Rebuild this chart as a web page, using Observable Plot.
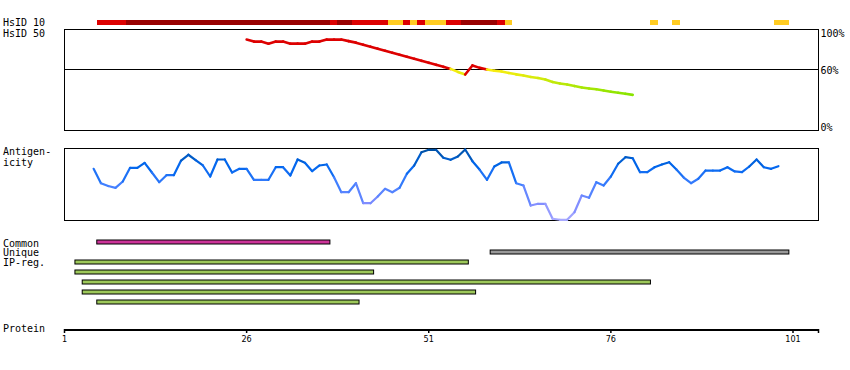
<!DOCTYPE html>
<html><head><meta charset="utf-8">
<script src="https://cdn.jsdelivr.net/npm/d3@7"></script>
<script src="https://cdn.jsdelivr.net/npm/@observablehq/plot@0.6"></script>
<style>
body{margin:0;background:#fff;}
#chart{position:relative;width:850px;height:370px;overflow:hidden;background:#fff;}
#chart > svg{position:absolute;left:0;}
</style></head><body><div id="chart"></div>
<script>
// ---------- data ----------
const proteinLength = 104;
const tickResidues = [1, 26, 51, 76, 101];

// HsID 10 bar segments (residue ranges) and identity level
const hsid10Start = [6, 10, 38, 39, 41, 46, 48, 49, 50, 51, 54, 56, 61, 62, 82, 85, 99];
const hsid10End   = [9, 37, 38, 40, 45, 47, 48, 49, 50, 53, 55, 60, 61, 62, 82, 85, 100];
const hsid10Level = ["mid","high","mid","high","mid","low","mid","low","mid","low","mid","high","mid","low","low","low","low"];

// HsID 50 (% identity) per residue, starting at residue 26
const hsid50First = 26;
const hsid50Values = [90, 88, 88, 86, 88, 88, 86, 86, 86, 88, 88, 90, 90, 90, 88.5, 87, 85, 83, 81, 79,
  77, 75, 73, 71, 69, 67, 65, 63, 61, 58, 55.4, 64.4, 62, 60.4, 59.1, 58.4, 56.9, 55.6, 54.5, 53,
  52, 50.5, 48, 46.5, 45.5, 44, 42.6, 41.6, 40.8, 39.6, 38.4, 37.4, 36.3, 35.3];

// Antigenicity per residue, starting at residue 5
const antigenFirst = 5;
const antigenValues = [71.8, 51.8, 47.9, 45.4, 54.2, 73.2, 73.2, 80.1, 66.7, 53.2, 62.9, 62.9, 83.3, 91.3, 84.0,
  76.4, 61.1, 84.7, 84.7, 66.7, 71.8, 71.8, 56.5, 56.5, 56.5, 74.0, 74.0, 62.5, 84.7, 80.1,
  68.5, 76.4, 77.8, 60.1, 39.3, 39.3, 51.8, 24.0, 24.0, 33.3, 44.0, 39.3, 45.4, 64.9, 76.4,
  94.9, 98.2, 98.2, 87.1, 84.3, 88.9, 98.6, 82.4, 70.4, 56.5, 75.0, 80.6, 80.6, 51.8, 48.6,
  20.8, 23.2, 23.2, 2.4, 1.0, 1.0, 11.5, 34.7, 31.5, 53.2, 48.6, 61.1, 78.8, 87.9, 86.5,
  67.1, 67.1, 74.0, 77.8, 81.0, 70.8, 59.7, 51.8, 57.9, 69.4, 69.4, 69.4, 74.0, 68.1, 67.1,
  75.0, 84.7, 74.0, 71.8, 75.4];

// Region bars
const regionStart = [6, 60, 3, 3, 4, 4, 6];
const regionEnd   = [37, 100, 56, 43, 81, 57, 41];
const regionKind  = ["Common", "Unique", "IP-reg.", "IP-reg.", "IP-reg.", "IP-reg.", "IP-reg."];

const percentTicks = [100, 60, 0];
const sideLabels = ["HsID 10", "HsID 50", "Antigen-", "icity", "Common", "Unique", "IP-reg.", "Protein"];

// ---------- layout ----------
const W = 850;
const mono = "'DejaVu Sans Mono', monospace";
const xScale = {domain: [1, proteinLength + 0.5]};
const base = {width: W, marginLeft: 64, marginRight: 32, x: xScale, style: {fontFamily: mono, fontSize: "10px", background: "transparent"}};
const root = document.getElementById("chart");
function place(svg, top) { svg.style.top = top + "px"; root.appendChild(svg); }

function segments(first, values) {
  const out = [];
  for (let i = 1; i < values.length; i++) {
    out.push({x1: first + i - 1, y1: values[i - 1], x2: first + i, y2: values[i], v: values[i], m: (values[i - 1] + values[i]) / 2});
  }
  return out;
}

// 1. HsID 10 bar
const hsid10 = hsid10Start.map((s, i) => ({s: s - 0.5, e: hsid10End[i] + 0.5, level: hsid10Level[i]}));
place(Plot.plot({
  ...base, height: 26, marginTop: 20, marginBottom: 1,
  x: {...xScale, axis: null},
  color: {type: "ordinal", domain: ["high", "mid", "low"], range: ["#990000", "#dd0000", "#ffcc22"]},
  marks: [Plot.rect(hsid10, {x1: "s", x2: "e", fill: "level", shapeRendering: "crispEdges"})]
}), 0);

// 2. HsID 50 panel
place(Plot.plot({
  ...base, height: 109, marginTop: 3, marginBottom: 5,
  x: {...xScale, axis: null},
  y: {domain: [0, 100], axis: null},
  color: {type: "linear", domain: [35, 59.99, 60, 100], range: ["#88e400", "#ffee11", "#dd0000", "#dd0000"]},
  marks: [
    Plot.frame({stroke: "black", shapeRendering: "crispEdges"}),
    Plot.ruleY([60], {stroke: "black", shapeRendering: "crispEdges"}),
    Plot.link(segments(hsid50First, hsid50Values), {x1: "x1", y1: "y1", x2: "x2", y2: "y2", stroke: "v", strokeWidth: 2.6, strokeLinecap: "round"}),
    Plot.text(percentTicks.filter(d => d === 100), {y: d => d, text: d => d + "%", frameAnchor: "right", textAnchor: "start", dx: 2, lineAnchor: "top", fill: "black"}),
    Plot.text(percentTicks.filter(d => d === 60), {y: d => d, text: d => d + "%", frameAnchor: "right", textAnchor: "start", dx: 2, dy: 1, fill: "black"}),
    Plot.text(percentTicks.filter(d => d === 0), {y: d => d, text: d => d + "%", frameAnchor: "right", textAnchor: "start", dx: 2, lineAnchor: "bottom", fill: "black"})
  ]
}), 26);

// 3. Antigenicity
place(Plot.plot({
  ...base, height: 85, marginTop: 8, marginBottom: 5,
  x: {...xScale, axis: null},
  y: {domain: [0, 100], axis: null},
  color: {type: "linear", domain: [0, 25, 50, 75, 100], range: ["#aaaaff", "#7f8cff", "#3f7fff", "#0066ee", "#00509f"]},
  marks: [
    Plot.frame({stroke: "black", shapeRendering: "crispEdges"}),
    Plot.link(segments(antigenFirst, antigenValues), {x1: "x1", y1: "y1", x2: "x2", y2: "y2", stroke: "m", strokeWidth: 2.2, strokeLinecap: "round"})
  ]
}), 140);

// 4. Region bars
const regions = regionStart.map((s, i) => ({s: s - 0.5, e: regionEnd[i] + 0.5, kind: regionKind[i], row: i}));
place(Plot.plot({
  ...base, height: 75, marginTop: 2, marginBottom: 3,
  x: {...xScale, axis: null},
  y: {type: "band", domain: d3.range(regions.length), padding: 0, axis: null},
  color: {type: "ordinal", domain: ["Common", "Unique", "IP-reg."], range: ["#cc3399", "#999999", "#9dc85a"]},
  marks: [Plot.rect(regions, {x1: "s", x2: "e", y: "row", fill: "kind", stroke: "black", strokeWidth: 1, insetTop: 3, insetBottom: 3})]
}), 235);

// 5. Protein axis
place(Plot.plot({
  ...base, height: 30, marginTop: 0, marginBottom: 26,
  x: {...xScale, axis: null},
  y: {domain: [0, 1], axis: null},
  marks: [
    Plot.ruleY([1], {x1: 1, x2: proteinLength + 0.5, stroke: "black", strokeWidth: 3}),
    Plot.ruleX(tickResidues.concat([proteinLength + 0.5]), {y1: 1, y2: 0, stroke: "black", strokeWidth: 1.5}),
    Plot.axisX({ticks: tickResidues, tickSize: 0, tickPadding: 2, tickFormat: d => String(d),
      fontFamily: "'Liberation Sans Narrow', 'DejaVu Sans Condensed', sans-serif", fontSize: 9})
  ]
}), 329);

// side labels (text)
const labelY = [26, 36.5, 155, 166, 246.5, 256, 266, 332];
const overlay = d3.create("svg").attr("width", W).attr("height", 370).style("top", "0px");
overlay.selectAll("text").data(sideLabels).join("text")
  .attr("x", 3).attr("y", (d, i) => labelY[i])
  .attr("font-family", mono).attr("font-size", 10).attr("fill", "black")
  .text(d => d);
root.appendChild(overlay.node());
</script></body></html>
